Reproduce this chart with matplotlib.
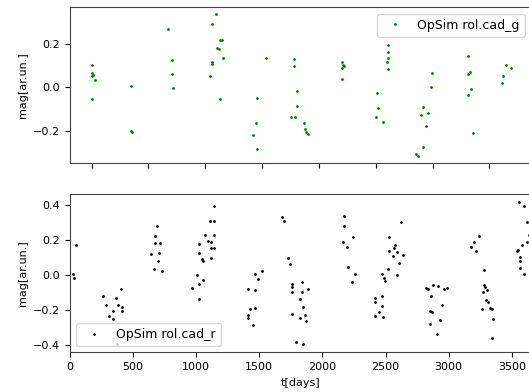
import matplotlib
matplotlib.use('Agg')
import matplotlib.pyplot as plt

# OpSim rolling cadence, g band
t_g = [3, 5, 8, 4, 32, 5,
       343, 346, 355,
       672, 710, 705, 712,
       1091, 1062, 1127, 1147, 1100, 1122, 1156, 1060, 1062, 1038, 1127,
       1532, 1458, 1444, 1420, 1458,
       1781, 1785, 1810, 1810, 1752, 1787,
       1871, 1880, 1890, 1905,
       2200, 2215, 2200, 2225, 2200,
       2508, 2523, 2500, 2567,
       2611, 2611, 2611, 2597, 2611,
       2993, 2984, 2914, 2898, 2963, 2943, 2914, 2852, 2875,
       3315, 3315, 3330, 3339, 3310, 3359,
       3644, 3691, 3623, 3614]
mag_g = [0.106, 0.068, 0.060, 0.052, 0.034, -0.055,
         0.006, -0.202, -0.206,
         0.272, 0.125, 0.063, -0.002,
         0.340, 0.294, 0.222, 0.218, 0.183, 0.176, 0.137, 0.119, 0.110, 0.052, -0.051,
         0.137, -0.048, -0.163, -0.222, -0.283,
         0.134, 0.098, -0.014, -0.086, -0.137, -0.137,
         -0.163, -0.194, -0.205, -0.217,
         0.120, 0.105, 0.090, 0.098, 0.037,
         -0.025, -0.097, -0.137, -0.159,
         0.195, 0.163, 0.137, 0.119, 0.085,
         0.068, 0.001, -0.091, -0.125, -0.117, -0.179, -0.276, -0.310, -0.317,
         0.145, 0.063, 0.070, -0.009, -0.035, -0.209,
         0.102, 0.088, 0.051, 0.020]

# OpSim rolling cadence, r band
t_r = [50, 20, 32,
       261, 283, 307, 341, 367, 380, 415, 415, 401, 341, 375,
       692, 676, 676, 710, 645, 703, 697, 666, 731,
       1144, 1110, 1144, 1070, 1144, 1096, 1117, 1022, 1117, 1144, 1022, 1043, 1056, 1117,
       1004, 1056, 1022, 964, 1022,
       1466, 1519, 1487, 1413, 1466, 1430, 1466, 1408, 1410, 1448,
       1683, 1698, 1725, 1743, 1757, 1757, 1757, 1841, 1841, 1823, 1762, 1823, 1849, 1789, 1849,
       1888, 1862, 1870,
       2171, 2171, 2166, 2197, 2245, 2205, 2258, 2232,
       2620, 2530, 2575, 2567, 2530, 2589, 2636, 2560, 2609, 2522, 2589, 2470, 2485, 2496,
       2417, 2417, 2470, 2470, 2451, 2417, 2478,
       2819, 2834, 2879, 2914, 2966, 2985, 2861, 2945, 2853, 2870, 2932, 2853, 2906,
       3241, 3204, 3178, 3215, 3283, 3280, 3290, 3300, 3275, 3294, 3315, 3328, 3346, 3267, 3354, 3346,
       3558, 3600, 3619, 3619, 3579, 3552, 3540, 3566, 3566, 3566, 3600, 3640]
mag_r = [0.172, 0.005, -0.017,
         -0.119, -0.172, -0.233, -0.206, -0.131, -0.172, -0.182, -0.206, -0.081, -0.252, -0.390,
         0.278, 0.222, 0.184, 0.184, 0.121, 0.127, 0.083, 0.036, 0.021,
         0.396, 0.311, 0.311, 0.229, 0.229, 0.197, 0.188, 0.178, 0.155, 0.155, 0.127, 0.093, 0.083, 0.097,
         -0.002, -0.030, -0.049, -0.074, -0.138,
         0.008, 0.021, -0.021, -0.081, -0.087, -0.191, -0.188, -0.229, -0.244, -0.282,
         0.330, 0.311, 0.097, 0.064, -0.049, -0.068, -0.097, -0.040, -0.097, -0.138, -0.220, -0.244, -0.182, -0.380, -0.390,
         -0.081, -0.225, -0.263,
         0.335, 0.282, 0.188, 0.159, 0.216, 0.045, 0.008, -0.040,
         0.305, 0.216, 0.169, 0.153, 0.135, 0.131, 0.115, 0.108, 0.070, 0.036, 0.002, 0.008, -0.018, -0.036,
         -0.131, -0.153, -0.119, -0.176, -0.210, -0.233, -0.239,
         -0.074, -0.081, -0.055, -0.062, -0.081, -0.074, -0.119, -0.169, -0.206, -0.210, -0.257, -0.276, -0.333,
         0.225, 0.188, 0.159, 0.135, 0.027, -0.058, -0.070, -0.085, -0.097, -0.144, -0.153, -0.188, -0.195, -0.195, -0.252, -0.358,
         0.415, 0.396, 0.305, 0.188, 0.169, 0.146, 0.135, 0.102, 0.083, 0.040, 0.008, 0.230]

plt.rcParams['font.size'] = 8
fig = plt.figure(figsize=(5.29, 3.92), dpi=100)

W, H = 529.0, 392.0
ax1 = fig.add_axes([70 / W, 1 - 162.7 / H, 461 / W, 155.4 / H])
ax2 = fig.add_axes([70 / W, 1 - 352.3 / H, 461 / W, 158.3 / H])

ax1.plot(t_g, mag_g, '.', color='g', markersize=2, label='OpSim rol.cad_g')
ax1.set_xlim(-191, 3867)
ax1.set_ylim(-0.348, 0.371)
ax1.set_xticks([0, 500, 1000, 1500, 2000, 2500, 3000, 3500])
ax1.set_yticks([-0.2, 0.0, 0.2])
ax1.tick_params(labelbottom=False)
ax1.set_ylabel('mag[ar.un.]')
ax1.legend(loc='upper right', fontsize=9)

ax2.plot(t_r, mag_r, '.', color='k', markersize=2, label='OpSim rol.cad_r')
ax2.set_xlim(0, 3652.5)
ax2.set_ylim(-0.44, 0.4625)
ax2.set_xticks([0, 500, 1000, 1500, 2000, 2500, 3000, 3500])
ax2.set_yticks([-0.4, -0.2, 0.0, 0.2, 0.4])
ax2.set_xlabel('t[days]')
ax2.set_ylabel('mag[ar.un.]')
ax2.legend(loc='lower left', fontsize=9)

for ax in (ax1, ax2):
    for s in ax.spines.values():
        s.set_color('#444444')

fig.savefig('out.png', dpi=100)
